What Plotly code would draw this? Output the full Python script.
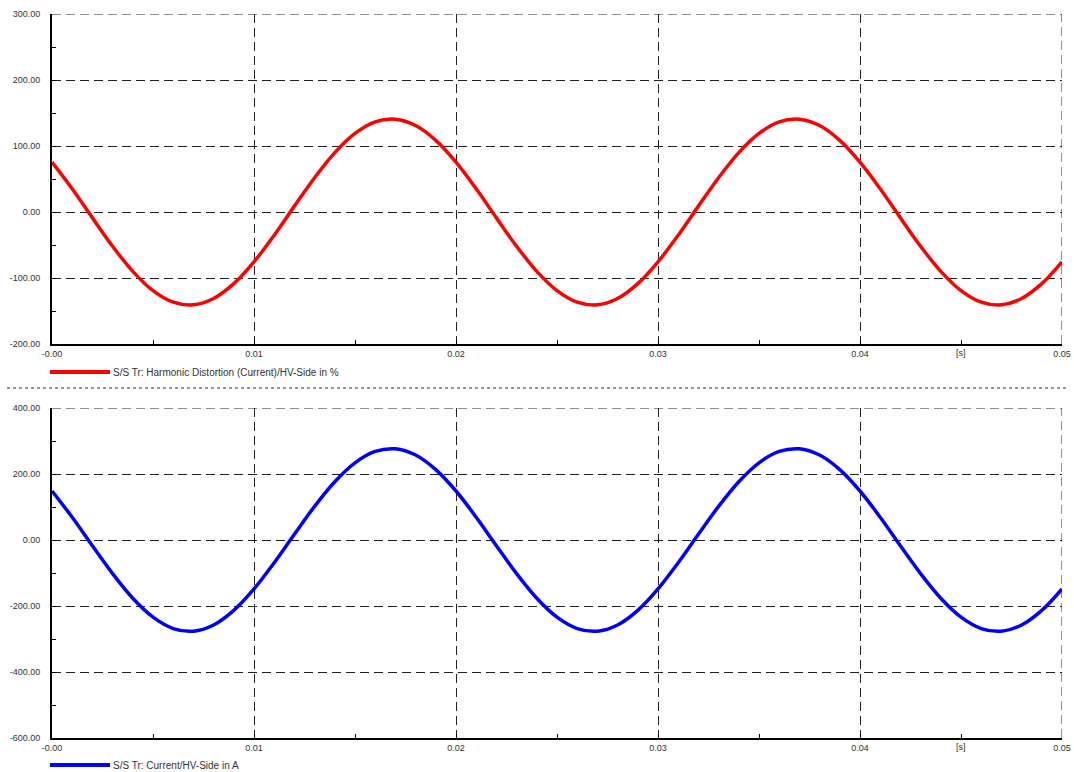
import plotly.graph_objects as go

# time axis in seconds (1 ms steps)
time_s = [i / 1000 for i in range(51)]

# S/S Tr: Harmonic Distortion (Current)/HV-Side in %
hd_cycle = [75.5, 35.1, -8.9, -51.9, -89.9, -119.0, -136.6, -140.7, -131.1, -108.6,
            -75.5, -35.1, 8.9, 51.9, 89.9, 119.0, 136.6, 140.7, 131.1, 108.6]
harmonic_pct = hd_cycle + hd_cycle + hd_cycle[:11]

# S/S Tr: Current/HV-Side in A
cur_cycle = [148.5, 68.9, -17.4, -102.0, -176.6, -233.9, -268.3, -276.4, -257.6, -213.4,
             -148.4, -68.9, 17.4, 102.0, 176.6, 233.9, 268.3, 276.4, 257.6, 213.4]
current_a = cur_cycle + cur_cycle + cur_cycle[:11]

x_tickvals = [0, 0.01, 0.02, 0.03, 0.04, 0.05]
x_ticktext = ["-0.00", "0.01", "0.02", "0.03", "0.04", "0.05"]
x_unit_pos = 0.045
x_unit_text = "[s]"
top_yticks = [-200, -100, 0, 100, 200, 300]
bot_yticks = [-600, -400, -200, 0, 200, 400]

legend_top = "S/S Tr: Harmonic Distortion (Current)/HV-Side in %"
legend_bot = "S/S Tr: Current/HV-Side in A"

FONT = "Liberation Sans"
TXT = "#333333"
GRID = "#222222"
W, H = 1074, 772
ML, MR, MT, MB = 52, 12, 14, 34
PW, PH = W - ML - MR, H - MT - MB

def py(p):  # pixel y -> paper y
    return (H - MB - p) / PH

def px(p):  # pixel x -> paper x
    return (p - ML) / PW

def fmt(v):
    return f"{v:.2f}"

fig = go.Figure()
fig.add_trace(go.Scatter(x=time_s, y=harmonic_pct, mode="lines",
                         line=dict(color="#ff0000", width=3.5, shape="spline", smoothing=1.0),
                         xaxis="x", yaxis="y", showlegend=False))
fig.add_trace(go.Scatter(x=time_s, y=current_a, mode="lines",
                         line=dict(color="#0000ff", width=3.5, shape="spline", smoothing=1.0),
                         xaxis="x2", yaxis="y2", showlegend=False))

top_dom = [py(344), 1.0]
bot_dom = [0.0, py(408)]

common_x = dict(range=[0, 0.05], tickvals=x_tickvals, ticktext=x_ticktext,
                showgrid=True, gridcolor=GRID, gridwidth=1, griddash="9px,5px",
                showline=True, linecolor="black", linewidth=2,
                ticks="inside", ticklen=4, tickcolor="black", tickwidth=1,
                minor=dict(dtick=0.005, ticks="inside", ticklen=4, tickcolor="black", showgrid=False),
                zeroline=False, tickfont=dict(family=FONT, size=9, color=TXT),
                fixedrange=True, automargin=False)
common_y = dict(showgrid=True, gridcolor=GRID, gridwidth=1, griddash="9px,5px",
                showline=True, linecolor="black", linewidth=2,
                ticks="inside", ticklen=4, tickcolor="black", tickwidth=1,
                zeroline=False, ticklabelstandoff=8,
                tickfont=dict(family=FONT, size=9, color=TXT), fixedrange=True,
                automargin=False)

fig.update_layout(
    width=W, height=H,
    margin=dict(l=ML, r=MR, t=MT, b=MB, autoexpand=False),
    paper_bgcolor="white", plot_bgcolor="white",
    xaxis=dict(domain=[0, 1], anchor="y", **common_x),
    yaxis=dict(domain=top_dom, anchor="x", range=[-200, 300], tickvals=top_yticks,
               ticktext=[fmt(v) for v in top_yticks],
               minor=dict(dtick=50, ticks="inside", ticklen=4, tickcolor="black", showgrid=False),
               **common_y),
    xaxis2=dict(domain=[0, 1], anchor="y2", **common_x),
    yaxis2=dict(domain=bot_dom, anchor="x2", range=[-600, 400], tickvals=bot_yticks,
                ticktext=[fmt(v) for v in bot_yticks],
                minor=dict(dtick=100, ticks="inside", ticklen=4, tickcolor="black", showgrid=False),
                **common_y),
    showlegend=False,
)

# edge grid lines (top and right) which plotly omits
for xa, ya, ytop in (("x", "y", top_yticks[-1]), ("x2", "y2", bot_yticks[-1])):
    fig.add_shape(type="line", xref=f"{xa} domain", yref=ya, x0=0, x1=1, y0=ytop, y1=ytop,
                  line=dict(color=GRID, width=1, dash="9px,5px"))
    fig.add_shape(type="line", xref=xa, yref=f"{ya} domain", x0=x_tickvals[-1], x1=x_tickvals[-1],
                  y0=0, y1=1, line=dict(color=GRID, width=1, dash="9px,5px"))
    fig.add_annotation(xref=xa, yref=f"{ya} domain", x=x_unit_pos, y=0, yshift=-2,
                       text=x_unit_text, showarrow=False, xanchor="center", yanchor="top",
                       font=dict(family=FONT, size=9, color=TXT))

# legend samples + separator
fig.add_shape(type="line", xref="paper", yref="paper", x0=px(50), x1=px(110), y0=py(372), y1=py(372),
              line=dict(color="#ff0000", width=4))
fig.add_annotation(xref="paper", yref="paper", x=px(111), y=py(372), text=legend_top, showarrow=False,
                   xanchor="left", yanchor="middle", font=dict(family=FONT, size=10, color=TXT))
fig.add_shape(type="line", xref="paper", yref="paper", x0=px(50), x1=px(110), y0=py(765), y1=py(765),
              line=dict(color="#0000ff", width=4))
fig.add_annotation(xref="paper", yref="paper", x=px(111), y=py(765), text=legend_bot, showarrow=False,
                   xanchor="left", yanchor="middle", font=dict(family=FONT, size=10, color=TXT))
fig.add_shape(type="line", xref="paper", yref="paper", x0=px(7), x1=px(1067), y0=py(388), y1=py(388),
              line=dict(color="#999999", width=2, dash="dot"))

fig.write_html("out.html", config=dict(displayModeBar=False))
